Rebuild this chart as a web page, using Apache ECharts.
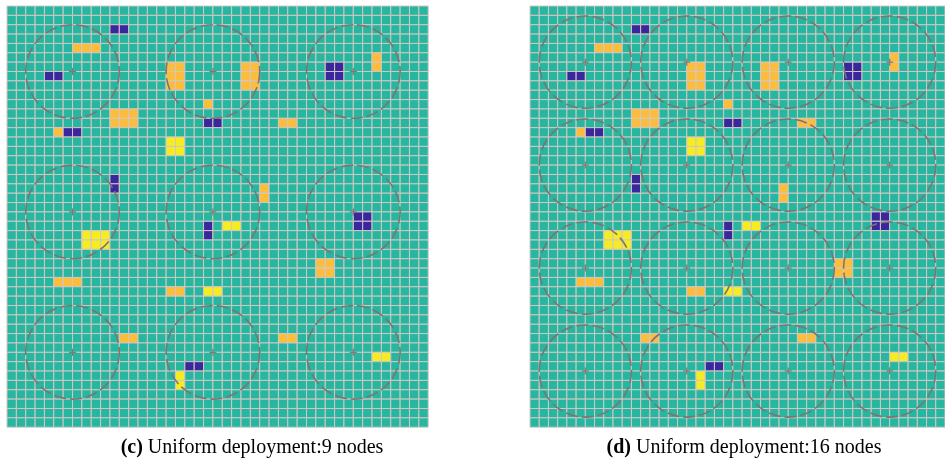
<!DOCTYPE html>
<html>
<head>
<meta charset="utf-8">
<script src="https://cdn.jsdelivr.net/npm/echarts@6/dist/echarts.min.js"></script>
<style>html,body{margin:0;padding:0;background:#fff;}#c{width:945px;height:469px;}</style>
</head>
<body>
<div id="c"></div>
<script>
// grid size (cells per side)
const gridCells = 45;
// target cells [column, row] counted from the top-left cell
const blueCells = [[11,2],[12,2],[4,7],[5,7],[21,12],[22,12],[6,13],[7,13],[34,6],[35,6],[34,7],[35,7],
  [11,18],[11,19],[37,22],[38,22],[37,23],[38,23],[21,23],[21,24],[19,38],[20,38]];
const orangeCells = [[7,4],[8,4],[9,4],[17,6],[18,6],[17,7],[18,7],[17,8],[18,8],[25,6],[26,6],[25,7],[26,7],[25,8],[26,8],
  [21,10],[11,11],[12,11],[13,11],[11,12],[12,12],[13,12],[5,13],[39,5],[39,6],[29,12],[30,12],[27,19],[27,20],
  [33,27],[34,27],[33,28],[34,28],[5,29],[6,29],[7,29],[17,30],[18,30],[12,35],[13,35],[29,35],[30,35]];
const yellowCells = [[17,14],[18,14],[17,15],[18,15],[23,23],[24,23],[8,24],[9,24],[10,24],[8,25],[9,25],[10,25],
  [21,30],[22,30],[39,37],[40,37],[18,39],[18,40]];
// node positions (grid units) and coverage radius
const nodeCoordsC = [7, 22, 37];
const nodeCoordsD = [6, 17, 28, 39];
const coverRadius = 5;
const captions = ['(c)', ' Uniform deployment:9 nodes', '(d)', ' Uniform deployment:16 nodes'];

const palette = ['#27b6a0', '#3a279e', '#fbbd3b', '#f5ec21'];

function buildCells() {
  const m = [];
  for (let c = 0; c < gridCells; c++) for (let r = 0; r < gridCells; r++) m.push([c, r, 0]);
  const idx = (c, r) => c * gridCells + r;
  blueCells.forEach(([c, r]) => m[idx(c, r)][2] = 1);
  orangeCells.forEach(([c, r]) => m[idx(c, r)][2] = 2);
  yellowCells.forEach(([c, r]) => m[idx(c, r)][2] = 3);
  return m;
}
function buildNodes(coords) {
  const out = [];
  coords.forEach(y => coords.forEach(x => out.push([x, y])));
  return out;
}
const cells = buildCells();

function renderCell(params, api) {
  const c = api.value(0), r = api.value(1);
  const p0 = api.coord([c, r]);
  const p1 = api.coord([c + 1, r + 1]);
  return {
    type: 'rect',
    shape: {x: p0[0], y: p0[1], width: p1[0] - p0[0], height: p1[1] - p0[1]},
    style: {fill: palette[api.value(2)], stroke: '#d3c7c3', lineWidth: 1}
  };
}
function renderNode(params, api) {
  const p = api.coord([api.value(0), api.value(1)]);
  const rad = api.size([coverRadius, coverRadius]);
  const s = 3.5;
  return {
    type: 'group',
    children: [
      {type: 'circle', shape: {cx: p[0], cy: p[1], r: rad[0]},
       style: {fill: 'none', stroke: '#7e7472', lineWidth: 1.6, lineDash: [12, 4]}},
      {type: 'line', shape: {x1: p[0] - s, y1: p[1], x2: p[0] + s, y2: p[1]},
       style: {stroke: '#8a7270', lineWidth: 1.2}},
      {type: 'line', shape: {x1: p[0], y1: p[1] - s, x2: p[0], y2: p[1] + s},
       style: {stroke: '#8a7270', lineWidth: 1.2}}
    ]
  };
}

const chart = echarts.init(document.getElementById('c'));
const axisX = i => ({type: 'value', gridIndex: i, min: 0, max: gridCells, show: false});
const axisY = i => ({type: 'value', gridIndex: i, min: 0, max: gridCells, inverse: true, show: false});
const fontFam = '"Liberation Serif", "DejaVu Serif", serif';
chart.setOption({
  animation: false,
  grid: [
    {left: 7, top: 6, width: 421.2, height: 421.2},
    {left: 530, top: 6, width: 423, height: 421.2}
  ],
  xAxis: [axisX(0), axisX(1)],
  yAxis: [axisY(0), axisY(1)],
  series: [
    {type: 'custom', xAxisIndex: 0, yAxisIndex: 0, data: cells, renderItem: renderCell, silent: true},
    {type: 'custom', xAxisIndex: 1, yAxisIndex: 1, data: cells, renderItem: renderCell, silent: true},
    {type: 'custom', xAxisIndex: 0, yAxisIndex: 0, data: buildNodes(nodeCoordsC), renderItem: renderNode, silent: true, z: 5},
    {type: 'custom', xAxisIndex: 1, yAxisIndex: 1, data: buildNodes(nodeCoordsD), renderItem: renderNode, silent: true, z: 5}
  ],
  graphic: [
    {type: 'text', x: 252, y: 448, style: {
      text: '{b|' + captions[0] + '}' + captions[1], fontSize: 20, fontFamily: fontFam, fill: '#000',
      align: 'center', verticalAlign: 'middle',
      rich: {b: {fontWeight: 'bold', fontSize: 20, fontFamily: fontFam, fill: '#000'}}}},
    {type: 'text', x: 744, y: 448, style: {
      text: '{b|' + captions[2] + '}' + captions[3], fontSize: 20, fontFamily: fontFam, fill: '#000',
      align: 'center', verticalAlign: 'middle',
      rich: {b: {fontWeight: 'bold', fontSize: 20, fontFamily: fontFam, fill: '#000'}}}}
  ]
});
</script>
</body>
</html>
